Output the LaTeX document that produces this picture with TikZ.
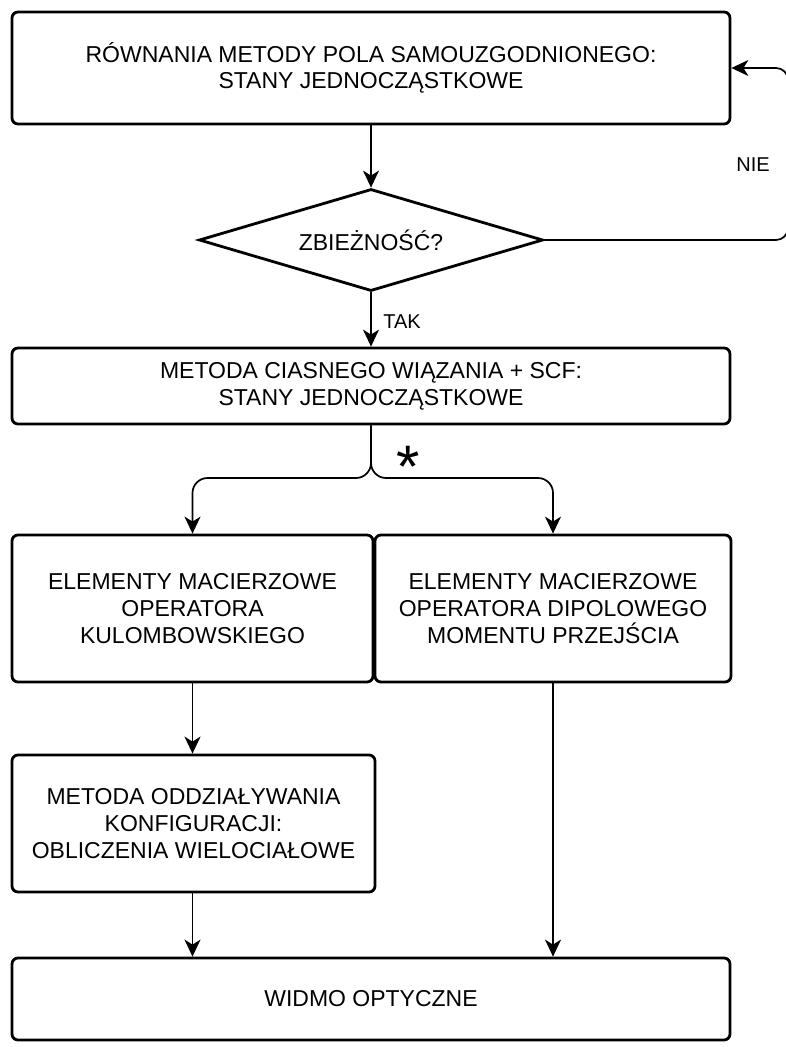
\documentclass[tikz,border=0pt]{standalone}
\usepackage{fontspec}
\setmainfont{Liberation Sans}
\usetikzlibrary{arrows.meta,shapes.geometric}
\begin{document}
\begin{tikzpicture}[x=1pt,y=-1pt,
  box/.style={draw, line width=2.8pt, rounded corners=6pt, align=center,
    font=\fontsize{23}{26.7}\selectfont, inner sep=0pt},
  conn/.style={line width=1.7pt, -{Stealth[length=17pt,width=16pt,inset=5pt]}},
  lbl/.style={font=\fontsize{20}{24}\selectfont, inner sep=0pt}]
\useasboundingbox (0,0) rectangle (786,1047);

\node[box, minimum width=718pt, minimum height=112pt] (b1) at (371,68)
  {RÓWNANIA METODY POLA SAMOUZGODNIONEGO:\\STANY JEDNOCZĄSTKOWE};
\node[draw, line width=2.8pt, shape=diamond, aspect=3.37, inner sep=0pt,
  minimum width=344pt, minimum height=102pt,
  font=\fontsize{23}{26.7}\selectfont] (d) at (371,240) {ZBIEŻNOŚĆ?};
\node[box, minimum width=718pt, minimum height=76pt] (b2) at (371,386)
  {METODA CIASNEGO WIĄZANIA + SCF:\\STANY JEDNOCZĄSTKOWE};
\node[box, minimum width=361pt, minimum height=147pt] (b3) at (192.5,608.5)
  {ELEMENTY MACIERZOWE\\OPERATORA\\KULOMBOWSKIEGO};
\node[box, minimum width=356pt, minimum height=147pt] (b4) at (553,608.5)
  {ELEMENTY MACIERZOWE\\OPERATORA DIPOLOWEGO\\MOMENTU PRZEJŚCIA};
\node[box, minimum width=363pt, minimum height=137pt] (b5) at (193.5,823.5)
  {METODA ODDZIAŁYWANIA\\KONFIGURACJI:\\OBLICZENIA WIELOCIAŁOWE};
\node[box, minimum width=718pt, minimum height=82pt] (b6) at (371,999)
  {WIDMO OPTYCZNE};

\coordinate (loopA) at (788,240);
\coordinate (loopB) at (788,68);
\coordinate (sp) at (371,478);

\draw[conn] (b1.south) -- (d.north);
\draw[conn, rounded corners=12pt] (d.east) -- (loopA) -- (loopB) -- (b1.east);
\node[lbl] (nie) at (753,165) {NIE};
\draw[conn] (d.south) -- (b2.north);
\node[lbl] (tak) at (402,322) {TAK};

\draw[conn, rounded corners=15pt] (b2.south) |- (b3.north |- sp) -- (b3.north);
\draw[conn, rounded corners=15pt] (b2.south) |- (b4.north |- sp) -- (b4.north);
\node[font=\fontsize{60}{60}\selectfont, inner sep=0pt, anchor=base] (ast) at (408,487) {*};

\draw[conn] (b3.south) -- (b5.north -| b3.south);
\draw[conn] (b5.south -| b3.south) -- (b6.north -| b3.south);
\draw[conn] (b4.south) -- (b6.north -| b4.south);
\end{tikzpicture}
\end{document}
